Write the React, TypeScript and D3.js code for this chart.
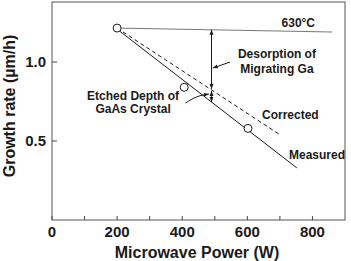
import { scaleLinear, line, curveNatural } from "d3";

const powerTicks = [0, 200, 400, 600, 800];
const minorPowerTicks = [100, 300, 500, 700];
const rateTicks = [0.5, 1.0];

const measuredPoints = [
  { power: 200, rate: 1.215 },
  { power: 406, rate: 0.84 },
  { power: 602, rate: 0.58 },
];
const measuredLine: [number, number][] = [
  [205, 1.2],
  [752, 0.33],
];
const correctedLine: [number, number][] = [
  [200, 1.215],
  [700, 0.54],
];
const line630: [number, number][] = [
  [200, 1.215],
  [860, 1.19],
];
const arrowPower = 490;

function valueAt(seg: [number, number][], p: number) {
  const [[x0, y0], [x1, y1]] = seg;
  return y0 + ((p - x0) / (x1 - x0)) * (y1 - y0);
}

export default function App() {
  const W = 351;
  const H = 261;
  const x = scaleLinear().domain([0, 900]).range([52, 345]);
  const y = scaleLinear().domain([0, 1.38]).range([220, 2]);
  const path = line<[number, number]>()
    .x((d) => x(d[0]))
    .y((d) => y(d[1]));
  const curve = line<[number, number]>()
    .x((d) => x(d[0]))
    .y((d) => y(d[1]))
    .curve(curveNatural);

  const font = "'Liberation Sans', Arial, Helvetica, sans-serif";
  const ink = "#1a1a1a";

  const ax = x(arrowPower);
  const yTop = y(valueAt(line630, arrowPower));
  const yMid = y(valueAt(correctedLine, arrowPower));
  const yBot = y(valueAt(measuredLine, arrowPower));

  return (
    <svg
      width={W}
      height={H}
      style={{ position: "absolute", left: 0, top: 0, background: "#fff" }}
      fontFamily={font}
    >
      <defs>
        <marker id="ah" viewBox="0 0 10 10" refX="10" refY="5" markerWidth="5" markerHeight="5" orient="auto-start-reverse">
          <path d="M0,1 L10,5 L0,9 z" fill={ink} />
        </marker>
      </defs>

      {/* frame */}
      <rect x={x(0)} y={y(1.38)} width={x(900) - x(0)} height={y(0) - y(1.38)} fill="none" stroke="#555" strokeWidth={1} />

      {/* x ticks */}
      {[...powerTicks, ...minorPowerTicks].map((t) => (
        <line key={"xt" + t} x1={x(t)} x2={x(t)} y1={y(0)} y2={y(0) - 4} stroke="#444" />
      ))}
      {powerTicks.map((t) => (
        <text key={"xl" + t} x={x(t)} y={237} textAnchor="middle" fontSize={15} fontWeight="bold" fill={ink}>
          {t}
        </text>
      ))}

      {/* y ticks */}
      {rateTicks.map((t) => (
        <g key={"yt" + t}>
          <line x1={x(0)} x2={x(0) + 5} y1={y(t)} y2={y(t)} stroke="#444" />
          <text x={46} y={y(t) + 5} textAnchor="end" fontSize={15} fontWeight="bold" fill={ink}>
            {t.toFixed(1)}
          </text>
        </g>
      ))}

      {/* axis titles */}
      <text x={197} y={258} textAnchor="middle" fontSize={16} fontWeight="bold" fill={ink}>
        Microwave Power (W)
      </text>
      <text transform={`translate(15,106) rotate(-90)`} textAnchor="middle" fontSize={16} fontWeight="bold" fill={ink}>
        Growth rate (µm/h)
      </text>

      {/* lines */}
      <path d={path(line630) ?? ""} fill="none" stroke="#777" strokeWidth={1} />
      <path d={path(correctedLine) ?? ""} fill="none" stroke={ink} strokeWidth={1} strokeDasharray="4,3" />
      <path d={path(measuredLine) ?? ""} fill="none" stroke={ink} strokeWidth={1} />

      {measuredPoints.map((d) => (
        <circle key={d.power} cx={x(d.power)} cy={y(d.rate)} r={4} fill="#fff" stroke={ink} strokeWidth={1} />
      ))}

      {/* vertical arrows */}
      <line x1={ax} x2={ax} y1={yTop} y2={yMid - 1} stroke={ink} markerStart="url(#ah)" markerEnd="url(#ah)" />
      <line x1={ax} x2={ax} y1={yMid + 1} y2={yBot} stroke={ink} markerStart="url(#ah)" markerEnd="url(#ah)" />

      {/* annotations */}
      <text x={x(808)} y={y(1.22)} textAnchor="end" fontSize={12} fontWeight="bold" fill={ink}>
        630°C
      </text>
      <text x={x(691)} y={y(1.025)} textAnchor="middle" fontSize={12} fontWeight="bold" fill={ink}>
        Desorption of
      </text>
      <text x={x(691)} y={y(0.93)} textAnchor="middle" fontSize={12} fontWeight="bold" fill={ink}>
        Migrating Ga
      </text>
      <line x1={x(547)} y1={y(1.0)} x2={x(494)} y2={y(0.962)} stroke={ink} markerEnd="url(#ah)" />

      <text x={x(249)} y={y(0.76)} textAnchor="middle" fontSize={12} fontWeight="bold" fill={ink}>
        Etched Depth of
      </text>
      <text x={x(249)} y={y(0.677)} textAnchor="middle" fontSize={12} fontWeight="bold" fill={ink}>
        GaAs Crystal
      </text>
      <path
        d={curve([[410, 0.74], [445, 0.78], [482, 0.797]]) ?? ""}
        fill="none"
        stroke={ink}
        markerEnd="url(#ah)"
      />

      <text x={x(645)} y={y(0.64)} fontSize={12} fontWeight="bold" fill={ink}>
        Corrected
      </text>
      <text x={x(728)} y={y(0.386)} fontSize={12} fontWeight="bold" fill={ink}>
        Measured
      </text>
    </svg>
  );
}
